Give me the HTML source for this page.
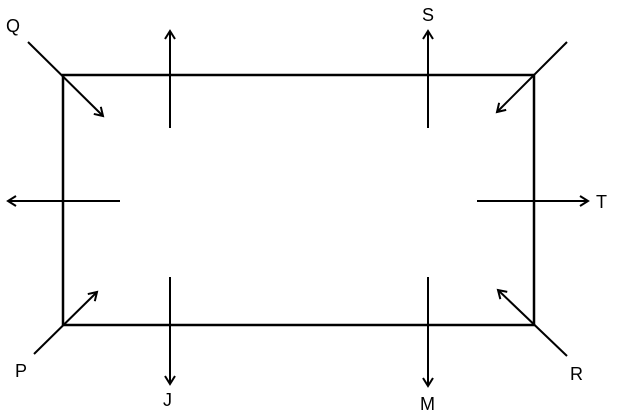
<!DOCTYPE html>
<html><head><meta charset="utf-8"><style>
html,body{margin:0;padding:0;background:#fff;}
svg{display:block;}
text{font-family:"Liberation Sans",sans-serif;font-size:18px;fill:#000;}
</style></head><body>
<svg width="619" height="416" viewBox="0 0 619 416" xmlns="http://www.w3.org/2000/svg">
<defs>
<marker id="a" markerWidth="12" markerHeight="12" refX="10" refY="6" orient="auto" markerUnits="userSpaceOnUse">
<polyline points="2,1 10,6 2,11" fill="none" stroke="#000" stroke-width="2"/>
</marker>
</defs>
<rect x="63" y="75" width="471" height="250" fill="none" stroke="#000" stroke-width="2.5"/>
<g stroke="#000" stroke-width="2" fill="none" marker-end="url(#a)">
<line x1="28" y1="42" x2="103" y2="116"/>
<line x1="170" y1="128" x2="170" y2="31"/>
<line x1="428" y1="128" x2="428" y2="31"/>
<line x1="567" y1="42" x2="497" y2="112"/>
<line x1="120" y1="201" x2="8" y2="201"/>
<line x1="477" y1="201" x2="588" y2="201"/>
<line x1="34" y1="354" x2="97" y2="292"/>
<line x1="170" y1="277" x2="170" y2="384"/>
<line x1="428" y1="277" x2="428" y2="386"/>
<line x1="567" y1="356" x2="498" y2="290"/>
</g>
<text x="6" y="32">Q</text>
<text x="422" y="21">S</text>
<text x="596" y="208">T</text>
<text x="15" y="377">P</text>
<text x="163" y="406">J</text>
<text x="420" y="410">M</text>
<text x="570" y="380">R</text>
</svg>
</body></html>
